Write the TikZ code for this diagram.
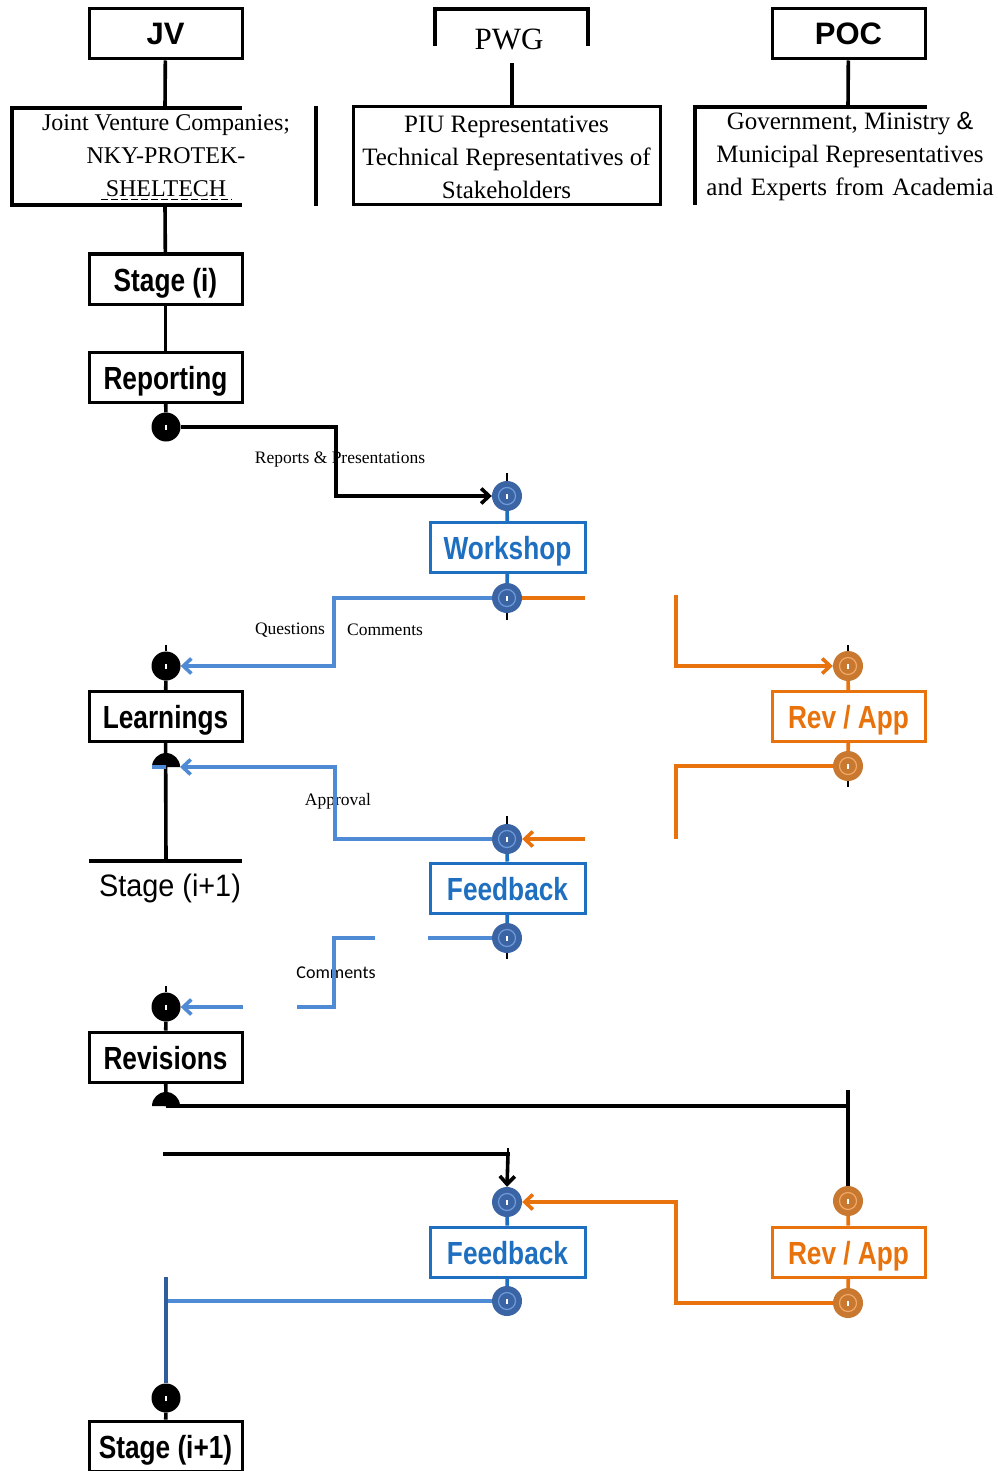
\documentclass[tikz,border=0pt]{standalone}
\usepackage{fontspec}
\usepackage{graphicx}
\setmainfont{Liberation Serif}
\newfontfamily\arialf{Liberation Sans}
\newfontfamily\carlitof{Carlito}
\usetikzlibrary{arrows.meta}

\definecolor{boxblue}{HTML}{1F6FC0}
\definecolor{lineblue}{HTML}{4F8AD4}
\definecolor{darkblue}{HTML}{2F5C9C}
\definecolor{portblue}{HTML}{3B64A4}
\definecolor{ringblue}{HTML}{6E9CDA}
\definecolor{orangeln}{HTML}{E8720C}
\definecolor{portorange}{HTML}{C8782F}
\definecolor{ringorange}{HTML}{F4A868}

\newcommand\narrowtxt[1]{\scalebox{0.82}[1]{#1}}

\begin{document}
\begin{tikzpicture}[x=1pt,y=-1pt,
  ln/.style={line width=3.6pt},
  blk/.style={ln,black},
  blu/.style={ln,lineblue},
  org/.style={ln,orangeln},
  tick/.style={line width=2.2pt,black},
  tip/.style={-{Straight Barb[length=8pt,width=15pt]}},
  stagebox/.style={draw,line width=3pt,minimum width=153pt,minimum height=50pt,
    inner sep=0pt,text height=28pt,text depth=4pt,
    font=\arialf\bfseries\fontsize{32}{36}\selectfont},
  bluebox/.style={stagebox,draw=boxblue,text=boxblue,minimum width=155pt},
  orangebox/.style={stagebox,draw=orangeln,text=orangeln},
  serif/.style={font=\fontsize{17.5}{20}\selectfont,inner sep=0pt},
  desc/.style={align=center,inner sep=0pt,font=\fontsize{25}{33}\selectfont},
  portmark/.style={path picture={\fill[white] ([xshift=-1pt,yshift=-2.5pt]path picture bounding box.center) rectangle ++(2pt,5pt);}},
  blackport/.style={circle,fill=black,minimum size=29pt,inner sep=0pt,portmark},
  blueport/.style={circle,fill=portblue,minimum size=30pt,inner sep=0pt,
    path picture={\draw[ringblue,line width=1.2pt] (path picture bounding box.center) circle (8.5pt);
      \fill[white] ([xshift=-1pt,yshift=-2.5pt]path picture bounding box.center) rectangle ++(2pt,5pt);}},
  orangeport/.style={circle,fill=portorange,minimum size=30pt,inner sep=0pt,
    path picture={\draw[ringorange,line width=1.2pt] (path picture bounding box.center) circle (8.5pt);
      \fill[white] ([xshift=-1pt,yshift=-2.5pt]path picture bounding box.center) rectangle ++(2pt,5pt);}}
]
\useasboundingbox (0,0) rectangle (997,1471);

% ---------- header: JV ----------
\node[stagebox,text height=27pt,text depth=5pt] (jv) at (165.5,34) {\fontsize{31}{34}\selectfont JV};
\coordinate (jvtop) at (165,108);
\coordinate (jvbot) at (165,205);
\draw[blk] (jv) -- (jvtop);
\draw[blk] (242,108) -- (12,108) -- (12,205) -- (242,205);
\draw[blk] (316,106) -- (316,206);
\node[desc,font=\fontsize{24}{33}\selectfont] (jvtext) at (166,156)
  {Joint Venture Companies;\\NKY-PROTEK-\\SHELTECH};
\draw[line width=0.9pt,dash pattern=on 7pt off 3pt] (101,199) -- (232,199);

% ---------- header: PWG ----------
\draw[blk] (435,46) -- (435,7) (435,9) -- (588,9) (588,7) -- (588,46);
\node[inner sep=0pt,font=\fontsize{31}{34}\selectfont] (pwg) at (509,39) {PWG};
\node[draw,line width=3pt,minimum width=307pt,minimum height=98pt,inner sep=0pt] (piu) at (506.5,156) {};
\node[desc] (piutext) at (506.5,157) {PIU Representatives\\Technical Representatives of\\Stakeholders};
\coordinate (pwgbar) at (512,63);
\draw[blk] (pwgbar) -- (piu.north -| pwgbar);

% ---------- header: POC ----------
\node[stagebox,text height=27pt,text depth=5pt] (poc) at (848.5,34) {\fontsize{31}{34}\selectfont POC};
\coordinate (poctop) at (848,107);
\draw[blk] (poc) -- (poctop);
\draw[blk] (927,107) -- (695,107) -- (695,205);
\node[desc] (poctext) at (850,157)
  {Government, Ministry {\arialf\&}\\Municipal Representatives\\and\hspace{2pt} Experts\hspace{2pt} from\hspace{2pt} Academia};

% ---------- JV column ----------
\node[stagebox] (stagei) at (165.5,279) {\narrowtxt{Stage (i)}};
\node[stagebox] (report) at (165.5,377) {\narrowtxt{Reporting}};
\node[blackport] (rep) at (166,427) {};
\draw[blk] (jvbot) -- (stagei);
\draw[blk] (stagei) -- (report);
\draw[blk] (report) -- (rep);

% ---------- Workshop ----------
\node[blueport] (wtop) at (507,496) {};
\node[bluebox] (ws) at (507.5,547.5) {\narrowtxt{Workshop}};
\node[blueport] (wbot) at (507,598) {};
\draw[ln,boxblue] (wtop) -- (ws);
\draw[ln,boxblue] (ws) -- (wbot);
\draw[tick] (wtop.north) -- ++(0,-8);
\draw[tick] (wbot.south) -- ++(0,7);

\node[serif] (lblrep) at (340,460) {Reports \& Presentations};
\draw[blk,tip] (rep.east) -- (336,427) -- (336,496) -- (wtop.west);

% ---------- Learnings ----------
\node[blackport] (lin) at (166,666) {};
\draw[tick] (lin.north) -- ++(0,-6);
\node[stagebox] (learn) at (165.5,716.5) {\narrowtxt{Learnings}};
\draw[blk] (lin) -- (learn);
\coordinate (lhalf) at (166,767);
\coordinate (sntop) at (166,861);
\draw[blk] (learn) -- (sntop);
\draw[blk] (89,861) -- (242,861);
\fill (152,767) arc[start angle=180,end angle=0,radius=14pt] -- cycle;
\node[inner sep=0pt,font=\arialf\fontsize{31}{34}\selectfont] (stagenext) at (170,888) {\scalebox{0.93}[1]{Stage (i+1)}};

\node[serif] (lblq) at (290,630) {Questions};
\node[serif] (lblc) at (385,630) {Comments};
\draw[blu,tip] (wbot.west) -- (334,598) -- (334,666) -- (lin.east);
\coordinate (wo) at (585,598);
\draw[org] (wbot.east) -- (wo);
\coordinate (o1) at (676,595);

% ---------- Rev / App (first) ----------
\node[orangeport] (rtop) at (848,666) {};
\node[orangebox] (rev1) at (848.5,716.5) {\narrowtxt{Rev / App}};
\node[orangeport] (rbot) at (848,766) {};
\draw[ln,orangeln] (rtop) -- (rev1);
\draw[ln,orangeln] (rev1) -- (rbot);
\draw[tick] (rtop.north) -- ++(0,-6);
\draw[tick] (rbot.south) -- ++(0,6);
\draw[org,tip] (o1) -- (676,666) -- (rtop.west);
\coordinate (o2) at (676,839);
\draw[org] (rbot.west) -- (676,766) -- (o2);

% ---------- Feedback (first) ----------
\node[blueport] (fb1top) at (507,839) {};
\node[bluebox] (fb1) at (507.5,888) {\narrowtxt{Feedback}};
\node[blueport] (fb1bot) at (507,938) {};
\draw[ln,boxblue] (fb1top) -- (fb1);
\draw[ln,boxblue] (fb1) -- (fb1bot);
\draw[tick] (fb1top.north) -- ++(0,-8);
\draw[tick] (fb1bot.south) -- ++(0,6);
\coordinate (o3) at (585,839);
\draw[org,tip] (o3) -- (fb1top.east);

\node[serif] (lblapp) at (338,801) {Approval};
\draw[blu,tip] (fb1top.west) -- (335,839) -- (335,767) -- (180,767);
\draw[blu] (152,767) -- (lhalf);

% Comments back to Revisions
\coordinate (c1) at (428,938);
\coordinate (c2) at (375,938);
\coordinate (c3) at (297,1007);
\coordinate (c4) at (243,1007);
\node[inner sep=0pt,font=\carlitof\fontsize{18}{20}\selectfont] (lblcom) at (336,973) {Comments};
\draw[blu] (fb1bot.west) -- (c1);
\draw[blu] (c2) -- (334,938) -- (334,1007) -- (c3);

% ---------- Revisions ----------
\node[blackport] (rvin) at (166,1007) {};
\draw[tick] (rvin.north) -- ++(0,-6);
\node[stagebox] (rev) at (165.5,1057) {\narrowtxt{Revisions}};
\draw[blk] (rvin) -- (rev);
\draw[blu,tip] (c4) -- (rvin.east);
\coordinate (rhalf) at (166,1106);
\draw[blk] (rev) -- (rhalf);
\fill (152,1106) arc[start angle=180,end angle=0,radius=14pt] -- cycle;

% ---------- Feedback / Rev / App (second) ----------
\node[blueport] (fb2top) at (507,1202) {};
\node[bluebox] (fb2) at (507.5,1252) {\narrowtxt{Feedback}};
\node[blueport] (fb2bot) at (507,1301) {};
\draw[ln,boxblue] (fb2top) -- (fb2);
\draw[ln,boxblue] (fb2) -- (fb2bot);

\node[orangeport] (r2top) at (848,1201) {};
\node[orangebox] (rev2) at (848.5,1252) {\narrowtxt{Rev / App}};
\node[orangeport] (r2bot) at (848,1303) {};
\draw[ln,orangeln] (r2top) -- (rev2);
\draw[ln,orangeln] (rev2) -- (r2bot);

\coordinate (rr) at (848,1090);
\draw[blk] (rhalf) -- (848,1106);
\draw[blk] (rr) -- (r2top.north);
\coordinate (b1) at (163,1154);
\draw[blk,tip] (b1) -- (508,1154) -- (fb2top.north);
\draw[tick] (508,1154) -- ++(0,-6);

\draw[org,tip] (r2bot.west) -- (676,1303) -- (676,1202) -- (fb2top.east);

% ---------- next stage ----------
\node[blackport] (sn2p) at (166,1398) {};
\node[stagebox] (stage2) at (165.5,1446) {\narrowtxt{Stage (i+1)}};
\draw[blk] (sn2p) -- (stage2);
\coordinate (dv) at (166,1277);
\draw[blu] (fb2bot.west) -- (166,1301);
\draw[ln,darkblue] (dv) -- (sn2p.north);
\end{tikzpicture}
\end{document}
